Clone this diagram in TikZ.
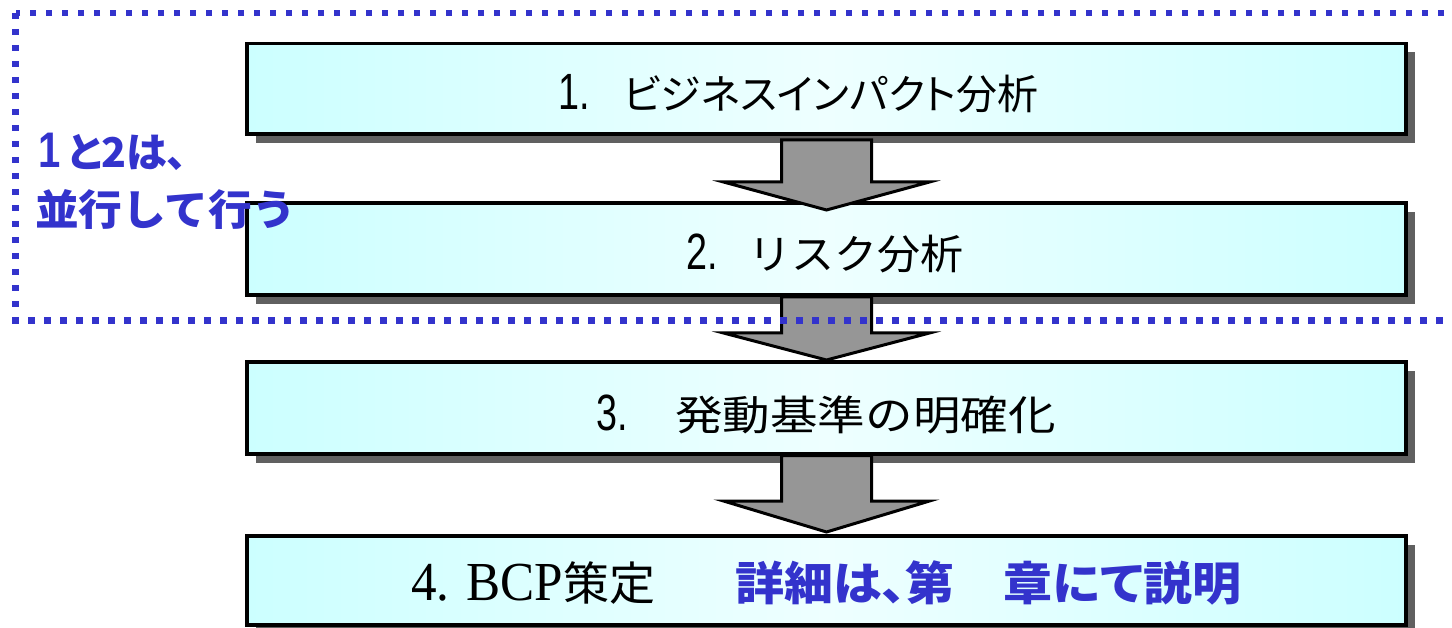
\documentclass[tikz,border=0pt]{standalone}
\usepackage{fontspec}
\setmainfont{Liberation Sans}
\newfontfamily\jp{Noto Sans CJK JP}[RawFeature=+palt]
\newfontfamily\jpf{Noto Sans CJK JP}
\newfontfamily\tms{Liberation Serif}
\usetikzlibrary{calc,shadows}
\definecolor{boxfill}{HTML}{CCFFFF}
\definecolor{boxmid}{HTML}{EEFFFF}
\definecolor{shadowgray}{HTML}{606060}
\definecolor{arrowgray}{HTML}{969696}
\definecolor{noteblue}{HTML}{3333CC}
\tikzset{
  stepbox/.style={draw=black, line width=3.5pt, minimum width=1159pt,
    left color=boxfill, right color=boxfill, middle color=boxmid,
    drop shadow={shadow xshift=9pt, shadow yshift=-9pt, fill=shadowgray, opacity=1},
    inner sep=0pt, outer sep=0pt},
  blockarrow/.style={draw=black, line width=3pt, fill=arrowgray, line join=miter},
  dotline/.style={draw=noteblue, line width=6.5pt, dash pattern=on 6.5pt off 9.5pt},
  steptext/.style={anchor=base west, inner sep=0pt, text=black},
  notetext/.style={anchor=base west, inner sep=0pt, text=noteblue},
}
\newcommand\blkarrow[3]{%
  \draw[blockarrow] ($(#1)+(-45,0)$) -- ($(#1)+(45,0)$) -- ($(#2)+(45,-#3)$)
    -- ($(#2)+(103,-#3)$) -- (#2) -- ($(#2)+(-103,-#3)$) -- ($(#2)+(-45,-#3)$) -- cycle;}
\newcommand\stepnum[1]{\scalebox{0.74}[1]{\fontsize{51}{51}\selectfont #1}}
\begin{document}
\begin{tikzpicture}[x=1pt,y=-1pt]
\useasboundingbox (0,0) rectangle (1452,628);
\clip (0,0) rectangle (1452,628);
% boxes
\node[stepbox, minimum height=90.5pt] (b1) at (826.5,88.75) {};
\node[stepbox, minimum height=92pt] (b2) at (826.5,249) {};
\node[stepbox, minimum height=92pt] (b3) at (826.5,408) {};
\node[stepbox, minimum height=89pt] (b4) at (826.5,580.5) {};
% arrows
\coordinate (a1t) at ($(b1.south)+(0,6)$);
\coordinate (a1h) at ($(b2.north)+(0,7)$);
\coordinate (a2t) at ($(b2.south)+(0,2)$);
\coordinate (a2h) at ($(b3.north)+(0,-2)$);
\coordinate (a3t) at ($(b3.south)+(0,1.5)$);
\coordinate (a3h) at ($(b4.north)+(0,-4)$);
\blkarrow{a1t}{a1h}{28}
\blkarrow{a2t}{a2h}{27}
\blkarrow{a3t}{a3h}{31}
% dotted frame
\draw[dotline] (1460,13) -- (15.5,13);
\draw[dotline] (15.5,13) -- (15.5,320.5) -- (1460,320.5);
% texts
\node[steptext] (n1) at (558,110) {\stepnum{1.}};
\node[steptext] (t1) at (623,110) {\jp\fontsize{41}{41}\selectfont ビジネスインパクト分析};
\node[steptext] (n2) at (686,270) {\stepnum{2.}};
\node[steptext] (t2) at (748,270) {\scalebox{1.05}[1]{\jpf\fontsize{41}{41}\selectfont リスク分析}};
\node[steptext] (n3) at (596,430) {\stepnum{3.}};
\node[steptext] (t3) at (675,430) {\scalebox{1.16}[1]{\jpf\fontsize{41}{41}\selectfont 発動基準の明確化}};
\node[steptext] (t4) at (411,600) {\scalebox{0.93}[1]{\tms\fontsize{55}{55}\selectfont 4. BCP}{\jp\fontsize{46}{46}\selectfont 策定}};
\node[notetext] (note4) at (735,600) {\scalebox{1.065}[1]{\jp\bfseries\fontsize{46}{46}\selectfont 詳細は、第　章にて説明}};
\node[notetext] (note1) at (38,168) {\scalebox{0.8}[1]{\bfseries\fontsize{50}{50}\selectfont 1}\hspace{7pt}{\jp\bfseries\fontsize{41}{41}\selectfont と2は、}};
\node[notetext] (note2) at (35,226) {\scalebox{1.04}[1]{\jpf\bfseries\fontsize{42}{42}\selectfont 並行して行う}};
\end{tikzpicture}
\end{document}
